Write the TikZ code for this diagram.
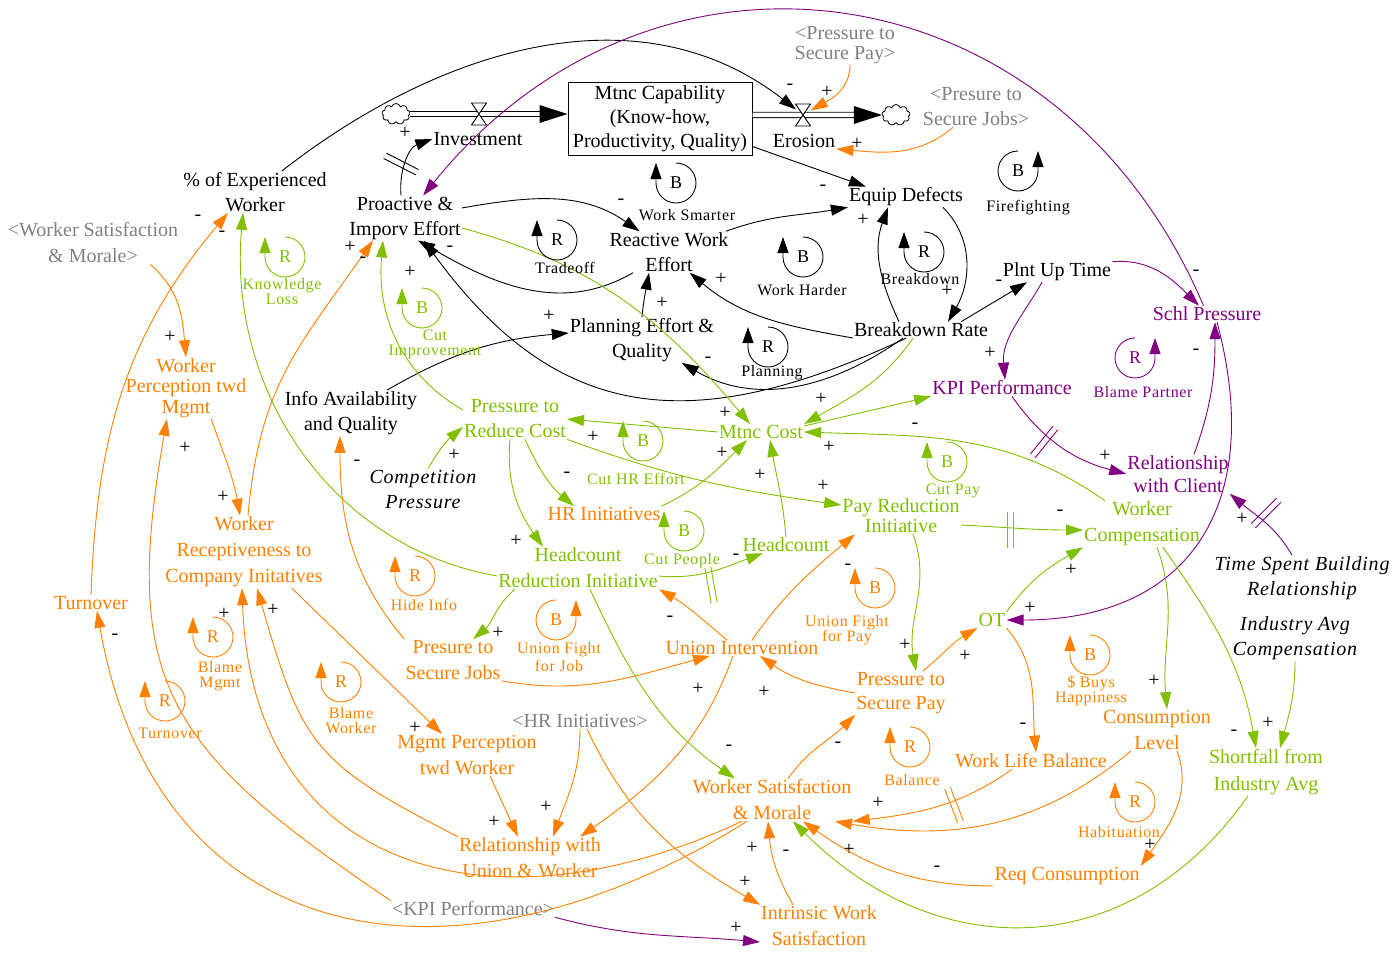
\documentclass[tikz,border=0pt]{standalone}
\usepackage{fontspec}
\setmainfont{Liberation Serif}
\newfontfamily\capfont[LetterSpace=4]{Liberation Serif}
\newfontfamily\extfont[LetterSpace=4]{Liberation Serif}
\usetikzlibrary{arrows.meta,shapes.symbols}
\definecolor{vorange}{RGB}{255,128,0}
\definecolor{vgreen}{RGB}{128,192,0}
\definecolor{vpurple}{RGB}{128,0,128}
\definecolor{vgray}{RGB}{128,128,128}
\newcommand{\fbloop}[5]{%
  \draw[#5,line width=0.9pt,-{Triangle[length=16pt,width=11pt]}] (#2,-#3) ++(90:20) arc[start angle=90,end angle=-180,radius=20] -- ++(0,20);
  \node[#5,inner sep=0pt,font=\fontsize{18}{18}\selectfont] (#1) at (#2,-#3) {#4};}
\newcommand{\fbloopr}[5]{%
  \draw[#5,line width=0.9pt,-{Triangle[length=16pt,width=11pt]}] (#2,-#3) ++(90:20) arc[start angle=90,end angle=360,radius=20] -- ++(0,20);
  \node[#5,inner sep=0pt,font=\fontsize{18}{18}\selectfont] (#1) at (#2,-#3) {#4};}
\newcommand{\delaymark}[4]{%
  \draw[#4,line width=0.9pt] (#1,-#2) ++(#3+90:3) ++(#3+180:18) -- ++(#3:36);
  \draw[#4,line width=0.9pt] (#1,-#2) ++(#3-90:3) ++(#3+180:18) -- ++(#3:36);}

\begin{document}
\begin{tikzpicture}[x=1pt,y=1pt,
  var/.style={align=center,inner sep=1pt,font=\fontsize{20}{25}\selectfont},
  ext/.style={var,font=\extfont\fontsize{20}{25}\selectfont\itshape},
  lcap/.style={align=center,inner sep=0pt,font=\capfont\fontsize{16}{15}\selectfont},
  sgn/.style={inner sep=0pt,text=black,font=\fontsize{20}{20}\selectfont},
  lnk/.style={line width=0.9pt,-{Triangle[length=17pt,width=11pt]}},
  pipe/.style={double,double distance=4.5pt,line width=0.9pt}]
\useasboundingbox (0,0) rectangle (1399,-955);

\node[var,draw,line width=1pt,minimum width=184pt,minimum height=72pt,font=\fontsize{20}{24}\selectfont] (mcap) at (660,-119) {Mtnc Capability\\(Know-how,\\Productivity, Quality)};
\node[var] (inv) at (478,-139) {Investment};
\node[var] (ero) at (804,-141) {Erosion};
\node[cloud,cloud puffs=9,draw,line width=0.8pt,minimum width=28pt,minimum height=21pt,inner sep=0pt] (cldl) at (396,-114) {};
\node[cloud,cloud puffs=9,draw,line width=0.8pt,minimum width=28pt,minimum height=21pt,inner sep=0pt] (cldr) at (896,-115) {};
\coordinate (vin) at (479,-114);
\coordinate (vout) at (803,-115);

\node[var] (pexp) at (255,-192) {\% of Experienced\\Worker};
\node[var] (pie) at (405,-218) {Proactive \&\\Imporv Effort};
\node[var] (rwe) at (669,-252) {Reactive Work\\Effort};
\node[var] (eqd) at (906,-197) {Equip Defects};
\node[var] (pef) at (642,-340) {Planning Effort \&\\Quality};
\node[var] (bdr) at (921,-330) {Breakdown Rate};
\node[var] (put) at (1057,-272) {Plnt Up Time};
\node[var] (iaq) at (351,-413) {Info Availability\\and Quality};
\node[ext] (cpr) at (423,-489) {Competition\\Pressure};
\node[ext] (tsb) at (1302,-578) {Time Spent Building\\Relationship};
\node[ext] (iac) at (1295,-638) {Industry Avg\\Compensation};

\node[var,vgray,font=\fontsize{20}{20}\selectfont] (gpsp) at (845,-45) {<Pressure to\\Secure Pay>};
\node[var,vgray] (gpsj) at (976,-107) {<Presure to\\Secure Jobs>};
\node[var,vgray,font=\fontsize{20}{26}\selectfont] (gwsm) at (93,-243) {<Worker Satisfaction\\\& Morale>};
\node[var,vgray] (ghr) at (580,-721) {<HR Initiatives>};
\node[var,vgray] (gkpi) at (473,-909) {<KPI Performance>};

\node[var,vpurple] (sch) at (1207,-314) {Schl Pressure};
\node[var,vpurple] (kpi) at (1002,-388) {KPI Performance};
\node[var,vpurple,font=\fontsize{20}{23}\selectfont] (rwc) at (1178,-474) {Relationship\\with Client};

\node[var,vgreen] (prc) at (515,-419) {Pressure to\\Reduce Cost};
\node[var,vgreen] (mc) at (761,-432) {Mtnc Cost};
\node[var,vgreen,font=\fontsize{20}{20}\selectfont] (pri) at (901,-516) {Pay Reduction\\Initiative};
\node[var,vgreen] (hc) at (786,-545) {Headcount};
\node[var,vgreen,font=\fontsize{20}{26}\selectfont] (hri) at (578,-568) {Headcount\\Reduction Initiative};
\node[var,vgreen,font=\fontsize{20}{26}\selectfont] (wc) at (1142,-524) {Worker\\Compensation};
\node[var,vgreen] (ot) at (992,-620) {OT};
\node[var,vgreen,font=\fontsize{20}{27}\selectfont] (sfa) at (1266,-772) {Shortfall from\\Industry Avg};

\node[var,vorange,font=\fontsize{20}{20.5}\selectfont] (wpm) at (186,-388) {Worker\\Perception twd\\Mgmt};
\node[var,vorange,font=\fontsize{20}{26}\selectfont] (wrc) at (244,-552) {Worker\\Receptiveness to\\Company Initatives};
\node[var,vorange] (tov) at (91,-603) {Turnover};
\node[var,vorange] (hr) at (604,-514) {HR Initiatives};
\node[var,vorange,font=\fontsize{20}{26}\selectfont] (psj) at (453,-660) {Presure to\\Secure Jobs};
\node[var,vorange] (ui) at (742,-648) {Union Intervention};
\node[var,vorange,font=\fontsize{20}{26}\selectfont] (mpw) at (467,-755) {Mgmt Perception\\twd Worker};
\node[var,vorange,font=\fontsize{20}{26}\selectfont] (ruw) at (530,-858) {Relationship with\\Union \& Worker};
\node[var,vorange,font=\fontsize{20}{26}\selectfont] (wsm) at (772,-800) {Worker Satisfaction\\\& Morale};
\node[var,vorange,font=\fontsize{20}{24}\selectfont] (psp) at (901,-693) {Pressure to\\Secure Pay};
\node[var,vorange] (wlb) at (1031,-761) {Work Life Balance};
\node[var,vorange,font=\fontsize{20}{26}\selectfont] (cl) at (1157,-730) {Consumption\\Level};
\node[var,vorange] (rc) at (1067,-876) {Req Consumption};
\node[var,vorange,font=\fontsize{20}{26}\selectfont] (iws) at (819,-926) {Intrinsic Work\\Satisfaction};

\draw[pipe,shorten >=26pt] (cldl) -- ([yshift=5pt]mcap.west);
\fill ([yshift=5pt]mcap.west) -- ++(-28,9) -- ++(0,-18) -- cycle;
\draw[pipe,shorten >=26pt] ([yshift=4pt]mcap.east) -- (cldr.west);
\fill (cldr.west) -- ++(-28,9) -- ++(0,-18) -- cycle;
\filldraw[fill=white,line width=0.9pt] ([shift={(-7.5,11)}]vin) -- ([shift={(7.5,11)}]vin) -- ([shift={(-7.5,-11)}]vin) -- ([shift={(7.5,-11)}]vin) -- cycle;
\filldraw[fill=white,line width=0.9pt] ([shift={(-7.5,11)}]vout) -- ([shift={(7.5,11)}]vout) -- ([shift={(-7.5,-11)}]vout) -- ([shift={(7.5,-11)}]vout) -- cycle;

\draw[lnk,shorten >=9pt] (pexp) to[out=38,in=142] (vout) node[sgn] (s1) at (790,-87) {-};
\draw[lnk] (pie.100) to[out=95,in=200] (inv.west) node[sgn] (s2) at (405,-133) {+};
\delaymark{401}{164}{-27}{black}
\draw[lnk,vpurple] (sch) to[out=113,in=51,looseness=1.2] (pie);
\draw[lnk] (pie) to[out=10,in=145] (rwe) node[sgn] (s4) at (621,-202) {-};
\draw[lnk] (rwe) to[out=210,in=-30] (pie.-60) node[sgn] (s5) at (450,-249) {-};
\draw[lnk] ([xshift=-15pt]bdr.south) to[out=205,in=-54,looseness=1.2] (pie.-50) node[sgn] (s6) at (410,-272) {+};
\draw[lnk] (rwe) to[out=20,in=190] (eqd);
\draw[lnk] ([yshift=9pt]mcap.south east) -- ([xshift=18pt]eqd.north west) node[sgn] (s8) at (823,-188) {-};
\draw[lnk] ([xshift=-22pt]bdr.north) to[out=115,in=-110] ([xshift=-18pt]eqd.south) node[sgn] (s9) at (863,-220) {+};
\draw[lnk] ([xshift=37pt]eqd.south) to[out=-45,in=60] ([xshift=27pt]bdr.north) node[sgn] (s10) at (947,-291) {+};
\draw[lnk] ([xshift=40pt]bdr.north) -- ([xshift=-30pt]put.south) node[sgn] (s11) at (999,-283) {-};
\draw[lnk] ([yshift=-8pt]bdr.west) to[out=170,in=-40] (rwe.-45) node[sgn] (s12) at (721,-279) {+};
\draw[lnk] (pef.north) to[out=85,in=-100] ([xshift=-20pt]rwe.south) node[sgn] (s13) at (662,-303) {+};
\draw[lnk] ([xshift=36pt]iaq.north) to[out=30,in=185] ([yshift=7pt]pef.west) node[sgn] (s14) at (549,-316) {+};
\draw[lnk] ([xshift=-18pt]bdr.south) to[out=215,in=-30] (pef.-30) node[sgn] (s15) at (708,-360) {-};

\draw[lnk,vpurple] (put.north east) to[out=5,in=135] ([xshift=-8pt]sch.north) node[sgn] (s16) at (1196,-273) {-};
\draw[lnk,vpurple] ([xshift=-15pt]put.south) to[out=-120,in=95] ([xshift=3pt]kpi.north) node[sgn] (s17) at (990,-353) {+};
\draw[lnk,vpurple] ([xshift=10pt]kpi.south) to[out=-55,in=165] (rwc.west) node[sgn] (s18) at (1105,-456) {+};
\delaymark{1044}{442}{51}{vpurple}
\draw[lnk,vpurple] ([xshift=16pt]rwc.north) to[out=70,in=-90] ([xshift=8pt]sch.south) node[sgn] (s19) at (1196,-352) {-};
\draw[lnk,vpurple] ([xshift=10pt]sch.south) to[out=-75,in=0,looseness=1.3] (ot.east) node[sgn] (s20) at (1030,-608) {+};
\draw[lnk,vpurple] ([xshift=-10pt]tsb.north) to[out=120,in=-40] (rwc.south east) node[sgn] (s21) at (1242,-519) {+};
\delaymark{1266}{513}{45}{vpurple}
\draw[lnk,vpurple] (gkpi.south east) to[out=-15,in=175] ([yshift=-16pt]iws.west) node[sgn] (s22) at (736,-928) {+};

\draw[lnk,vorange,shorten >=9pt] ([xshift=5pt]gpsp.south) to[out=-90,in=30] (vout) node[sgn] (s23) at (827,-92) {+};
\draw[lnk,vorange] ([xshift=-23pt]gpsj.south) to[out=-140,in=-5] (ero.south east) node[sgn] (s24) at (857,-144) {+};
\draw[lnk,vorange] ([xshift=57pt]gwsm.south) to[out=-40,in=95] (wpm.north) node[sgn] (s25) at (170,-337) {+};
\draw[lnk,vorange] (ghr.south) to[out=-90,in=70] ([xshift=23pt]ruw.north) node[sgn] (s26) at (546,-807) {+};
\draw[lnk,vorange] ([xshift=7pt]ghr.south) to[out=-65,in=150] (iws.north west) node[sgn] (s27) at (745,-882) {+};
\draw[lnk,vorange] (gkpi.north west) to[out=146,in=-100,looseness=1.3] ([xshift=-19pt]wpm.south) node[sgn] (s28) at (185,-448) {+};
\draw[lnk,vorange] ([xshift=-25pt]wsm.south) to[out=212,in=-80,looseness=1.3] ([xshift=6pt]tov.south) node[sgn] (s29) at (115,-637) {-};
\draw[lnk,vorange] ([xshift=-30pt]wsm.south) to[out=205,in=-88,looseness=1.3] ([xshift=-2pt]wrc.south) node[sgn] (s30) at (224,-614) {+};
\draw[lnk,vorange] (ruw.north west) to[out=153,in=-74,looseness=1.3] ([xshift=13pt]wrc.south) node[sgn] (s31) at (273,-610) {+};
\draw[lnk,vorange] ([xshift=25pt]wpm.south) to[out=-70,in=100] ([xshift=-4pt]wrc.north) node[sgn] (s32) at (223,-497) {+};
\draw[lnk,vorange] ([xshift=4pt]wrc.north) to[out=85,in=-125,looseness=1.1] ([xshift=-32pt]pie.south) node[sgn] (s33) at (350,-247) {+};
\draw[lnk,vorange] ([xshift=48pt]wrc.south) -- ([xshift=-25pt]mpw.north) node[sgn] (s34) at (415,-728) {+};
\draw[lnk,vorange] ([xshift=23pt]mpw.south) -- ([xshift=-12pt]ruw.north) node[sgn] (s35) at (494,-822) {+};
\draw[lnk,vorange] (tov.north) to[out=88,in=-130] ([xshift=-27pt]pexp.south) node[sgn] (s36) at (198,-218) {-};
\draw[lnk,vgreen] ([yshift=-8pt]hri.west) to[out=170,in=-95] ([xshift=-12pt]pexp.south) node[sgn] (s37) at (222,-234) {-};
\draw[lnk,vorange] (psj.north west) to[out=130,in=-90] ([xshift=-11pt]iaq.south) node[sgn] (s38) at (357,-463) {-};
\draw[lnk,vorange] (psj.south east) to[out=-10,in=195] ([xshift=-32pt]ui.south) node[sgn] (s39) at (698,-689) {+};
\draw[lnk,vgreen] ([xshift=-63pt]hri.south) to[out=-140,in=40] ([xshift=20pt]psj.north) node[sgn] (s40) at (498,-633) {+};
\draw[lnk,vorange] ([xshift=-15pt]ui.north) to[out=140,in=-30] (hri.south east) node[sgn] (s41) at (670,-619) {-};
\draw[lnk,vorange] ([xshift=10pt]ui.north) to[out=55,in=-140] ([xshift=-46pt]pri.south) node[sgn] (s42) at (848,-567) {-};
\draw[lnk,vorange] ([xshift=-9pt]ui.south) to[out=-110,in=35] ([xshift=50pt]ruw.north);
\draw[lnk,vorange] (psp.west) to[out=170,in=-35] ([xshift=18pt]ui.south) node[sgn] (s44) at (764,-692) {+};
\draw[lnk,vgreen] ([xshift=12pt]pri.south) to[out=-70,in=100] ([xshift=15pt]psp.north) node[sgn] (s45) at (905,-645) {+};
\draw[lnk,vorange] ([xshift=22pt]psp.north) to[out=40,in=210] (ot.south west) node[sgn] (s46) at (965,-656) {+};
\draw[lnk,vorange] ([xshift=16pt]wsm.north) to[out=55,in=-135] (psp.south west) node[sgn] (s47) at (838,-745) {-};
\draw[lnk,vorange] ([xshift=-26pt]iws.north) to[out=120,in=-85] ([xshift=-4pt]wsm.south) node[sgn] (s48) at (752,-848) {+};
\draw[lnk,vorange] ([xshift=-19pt]wlb.south) to[out=-145,in=7] (wsm.south east) node[sgn] (s49) at (878,-803) {+};
\delaymark{954}{805}{-69}{vorange}
\draw[lnk,vorange] ([xshift=-26pt]cl.south) to[out=-140,in=-10] ([xshift=63pt]wsm.south) node[sgn] (s50) at (849,-850) {+};
\draw[lnk,vorange] (rc.south west) to[out=180,in=-35] ([xshift=31pt]wsm.south) node[sgn] (s51) at (937,-869) {-};
\draw[lnk,vgreen] ([xshift=-18pt]sfa.south) to[out=235,in=-45,looseness=1.15] ([xshift=21pt]wsm.south) node[sgn] (s52) at (786,-853) {-};
\draw[lnk,vorange] (ot.south east) to[out=-50,in=95] ([xshift=5pt]wlb.north) node[sgn] (s53) at (1023,-726) {-};
\draw[lnk,vgreen] (ot.north east) to[out=55,in=210] (wc.south west) node[sgn] (s54) at (1071,-570) {+};
\draw[lnk,vgreen] ([yshift=-9pt]pri.east) to[out=-3,in=180] ([yshift=-6pt]wc.west) node[sgn] (s55) at (1060,-513) {-};
\delaymark{1010}{530}{90}{vgreen}
\draw[lnk,vgreen] ([xshift=15pt]wc.south) to[out=-70,in=95] ([xshift=10pt]cl.north) node[sgn] (s56) at (1154,-681) {+};
\draw[lnk,vgreen] ([xshift=21pt]wc.south) to[out=-55,in=100] ([xshift=-10pt]sfa.north) node[sgn] (s57) at (1234,-733) {-};
\draw[lnk,vgreen] (iac.south) to[out=-90,in=75] ([xshift=14pt]sfa.north) node[sgn] (s58) at (1268,-723) {+};
\draw[lnk,vorange] ([xshift=20pt]cl.south) to[out=-70,in=55] (rc.north east) node[sgn] (s59) at (1150,-845) {+};
\draw[lnk,vgreen] ([xshift=-37pt]wc.north) to[out=145,in=-2] (mc.east) node[sgn] (s60) at (829,-447) {+};
\draw[lnk,vgreen] ([yshift=6pt]mc.east) -- (kpi.south west) node[sgn] (s61) at (915,-426) {-};
\draw[lnk,vgreen] ([xshift=-8pt]bdr.south) to[out=-125,in=30] (mc.north east) node[sgn] (s62) at (821,-399) {+};
\draw[lnk,vgreen] (mc.west) to[out=175,in=-5] (prc.east) node[sgn] (s63) at (593,-437) {+};
\draw[lnk,vgreen] ([yshift=-10pt]pie.east) to[out=-15,in=130] ([xshift=-11pt]mc.north) node[sgn] (s64) at (725,-413) {+};
\draw[lnk,vgreen] ([yshift=9pt]prc.west) to[out=150,in=-95] ([xshift=-22pt]pie.south) node[sgn] (s65) at (363,-260) {-};
\draw[lnk,vgreen] ([xshift=10pt]prc.south) to[out=-65,in=140] ([xshift=-30pt]hr.north) node[sgn] (s66) at (567,-475) {-};
\draw[lnk,vgreen] ([xshift=-5pt]prc.south) to[out=-95,in=125] ([xshift=-35pt]hri.north) node[sgn] (s67) at (516,-541) {+};
\draw[lnk,vgreen] (prc.south east) to[out=-20,in=172] ([yshift=11pt]pri.west) node[sgn] (s68) at (823,-486) {+};
\draw[lnk,vgreen] ([yshift=8pt]hr.east) to[out=25,in=-135] ([xshift=-14pt]mc.south) node[sgn] (s69) at (722,-453) {+};
\draw[lnk,vgreen] (hc.north) to[out=95,in=-80] ([xshift=9pt]mc.south) node[sgn] (s70) at (760,-475) {+};
\draw[lnk,vgreen] ([yshift=-8pt]hri.east) to[out=-5,in=200] ([xshift=-23pt]hc.south) node[sgn] (s71) at (736,-557) {-};
\delaymark{711}{585}{-80}{vgreen}
\draw[lnk,vgreen] ([xshift=12pt]hri.south) to[out=-65,in=145] ([xshift=-37pt]wsm.north) node[sgn] (s72) at (729,-748) {-};
\draw[lnk,vgreen] ([xshift=5pt]cpr.north) to[out=60,in=-140] ([yshift=-8pt]prc.west) node[sgn] (s73) at (454,-455) {+};

\fbloop{lws}{676}{183}{B}{black}
\fbloop{lto}{557}{240}{R}{black}
\fbloop{lwh}{803}{257}{B}{black}
\fbloop{lbd}{924}{252}{R}{black}
\fbloopr{lff}{1018}{171}{B}{black}
\fbloop{lpl}{768}{347}{R}{black}
\fbloop{lkl}{285}{257}{R}{vgreen}
\fbloop{lci}{422}{308}{B}{vgreen}
\fbloop{lch}{643}{441}{B}{vgreen}
\fbloop{lcp}{684}{531}{B}{vgreen}
\fbloop{lcy}{947}{462}{B}{vgreen}
\fbloopr{lbp}{1135}{358}{R}{vpurple}
\fbloop{lhi}{415}{576}{R}{vorange}
\fbloopr{luj}{556}{620}{B}{vorange}
\fbloop{lup}{875}{588}{B}{vorange}
\fbloop{lbm}{213}{637}{R}{vorange}
\fbloop{lbw}{341}{682}{R}{vorange}
\fbloop{ltu}{165}{701}{R}{vorange}
\fbloop{lba}{910}{747}{R}{vorange}
\fbloop{lbh}{1090}{655}{B}{vorange}
\fbloop{lha}{1135}{802}{R}{vorange}

\node[lcap] (lwsc) at (687,-215) {Work Smarter};
\node[lcap] (ltoc) at (565,-268) {Tradeoff};
\node[lcap] (lwhc) at (802,-290) {Work Harder};
\node[lcap] (lbdc) at (920,-279) {Breakdown};
\node[lcap] (lffc) at (1028,-208) {Firefighting};
\node[lcap] (lplc) at (772,-373) {Planning};
\node[lcap,vgreen] (lklc) at (282,-292) {Knowledge\\Loss};
\node[lcap,vgreen] (lcic) at (435,-344) {Cut\\Improvement};
\node[lcap,vgreen] (lchc) at (636,-479) {Cut HR Effort};
\node[lcap,vgreen] (lcpc) at (682,-561) {Cut People};
\node[lcap,vgreen] (lcyc) at (953,-491) {Cut Pay};
\node[lcap,vpurple] (lbpc) at (1143,-392) {Blame Partner};
\node[lcap,vorange] (lhic) at (424,-605) {Hide Info};
\node[lcap,vorange,font=\capfont\fontsize{16}{18}\selectfont] (lujc) at (559,-657) {Union Fight\\for Job};
\node[lcap,vorange] (lupc) at (847,-630) {Union Fight\\for Pay};
\node[lcap,vorange] (lbmc) at (220,-676) {Blame\\Mgmt};
\node[lcap,vorange] (lbwc) at (351,-721) {Blame\\Worker};
\node[lcap,vorange] (ltuc) at (170,-733) {Turnover};
\node[lcap,vorange] (lbac) at (912,-780) {Balance};
\node[lcap,vorange,font=\capfont\fontsize{16}{13}\selectfont] (lbhc) at (1091,-691) {\$ Buys\\Happiness};
\node[lcap,vorange] (lhac) at (1119,-832) {Habituation};
\end{tikzpicture}
\end{document}
